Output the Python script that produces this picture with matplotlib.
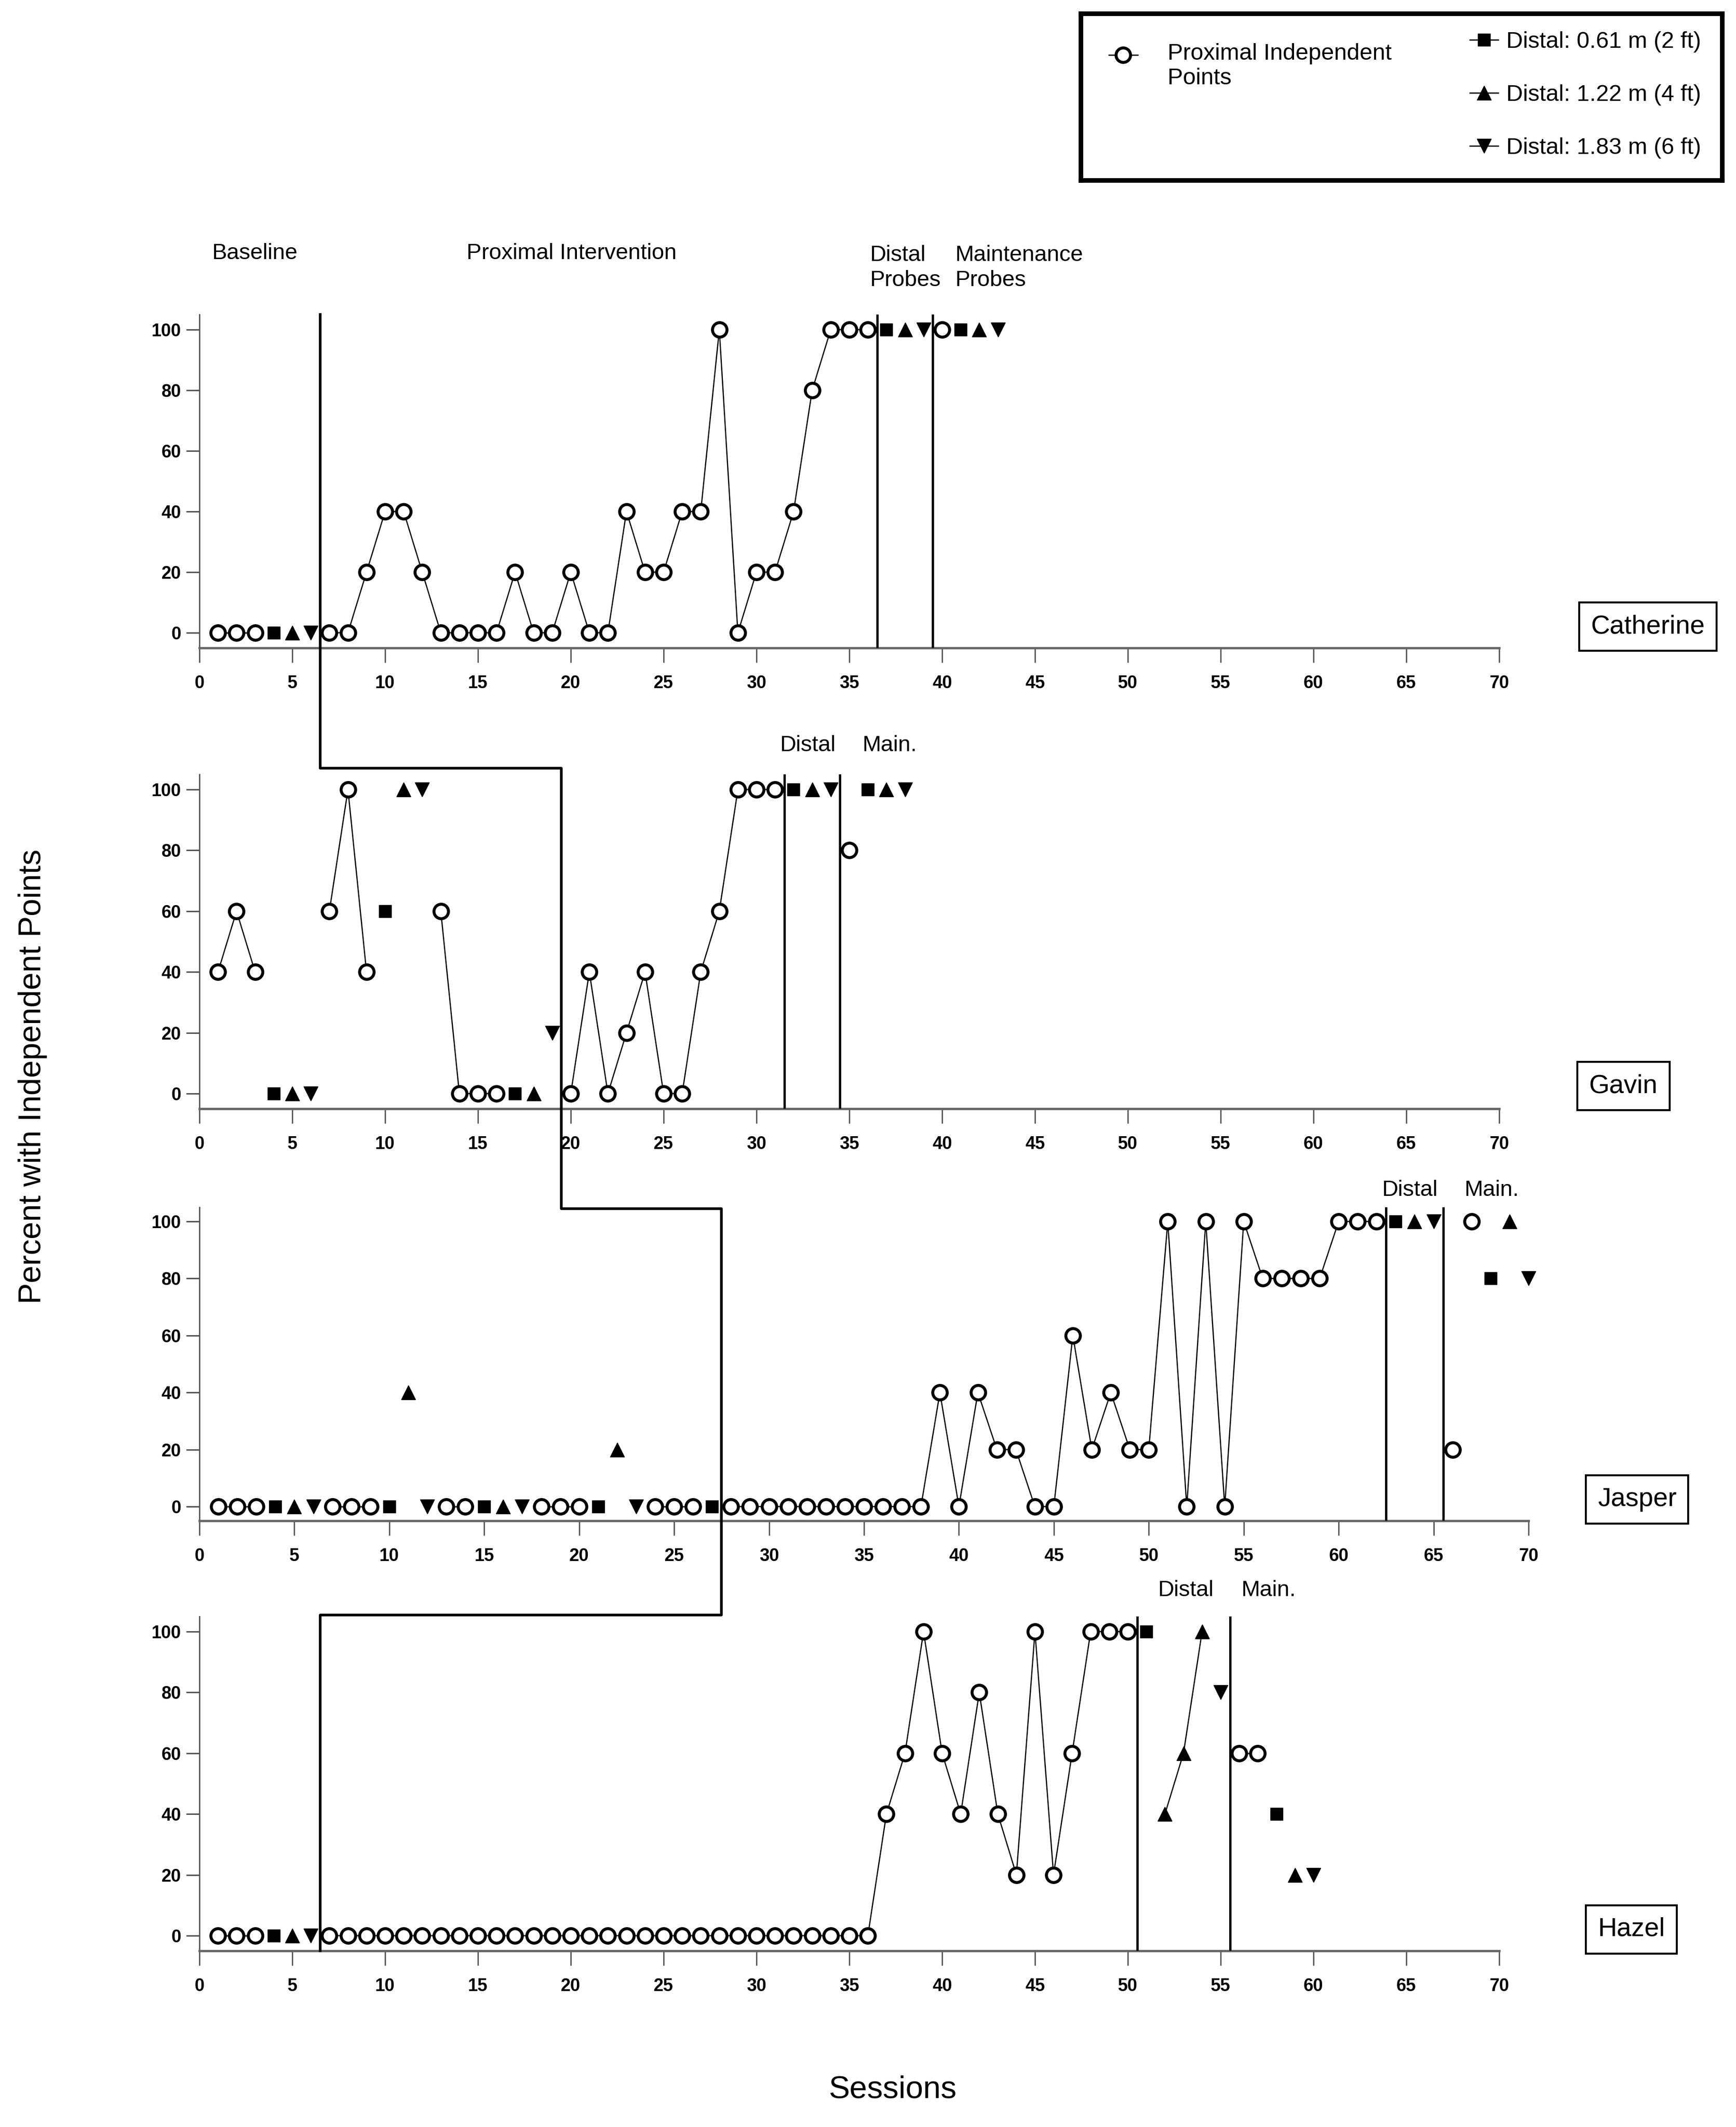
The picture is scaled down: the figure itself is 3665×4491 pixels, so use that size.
import numpy as np
import matplotlib.pyplot as plt
from matplotlib.lines import Line2D
from matplotlib.legend_handler import HandlerLine2D

plt.rcParams['font.family'] = ['Liberation Sans', 'DejaVu Sans']

W, H = 3665, 4491
DPI = 100

names = ['Catherine', 'Gavin', 'Jasper', 'Hazel']

# each series is a list of runs: (first session, values); points in a run are joined
catherine_prox = [(1, [0, 0, 0]),
                  (7, [0, 0, 20, 40, 40, 20, 0, 0, 0, 0, 20, 0, 0, 20, 0,
                       0, 40, 20, 20, 40, 40, 100, 0, 20, 20, 40, 80, 100, 100, 100]),
                  (40, [100])]
catherine_2ft = [(4, [0]), (37, [100]), (41, [100])]
catherine_4ft = [(5, [0]), (38, [100]), (42, [100])]
catherine_6ft = [(6, [0]), (39, [100]), (43, [100])]

gavin_prox = [(1, [40, 60, 40]), (7, [60, 100, 40]), (13, [60, 0, 0, 0]),
              (20, [0, 40, 0, 20, 40, 0, 0, 40, 60, 100, 100, 100]),
              (35, [80])]
gavin_2ft = [(4, [0]), (10, [60]), (17, [0]), (32, [100]), (36, [100])]
gavin_4ft = [(5, [0]), (11, [100]), (18, [0]), (33, [100]), (37, [100])]
gavin_6ft = [(6, [0]), (12, [100]), (19, [20]), (34, [100]), (38, [100])]

jasper_prox = [(1, [0, 0, 0]), (7, [0, 0, 0]), (13, [0, 0]), (18, [0, 0, 0]),
               (24, [0, 0, 0]),
               (28, [0, 0, 0, 0, 0, 0, 0, 0, 0, 0, 0, 40, 0, 40, 20, 20, 0, 0,
                     60, 20, 40, 20, 20, 100, 0, 100, 0, 100, 80, 80, 80, 80,
                     100, 100, 100]),
               (66, [20]), (67, [100])]
jasper_2ft = [(4, [0]), (10, [0]), (15, [0]), (21, [0]), (27, [0]), (63, [100]), (68, [80])]
jasper_4ft = [(5, [0]), (11, [40]), (16, [0]), (22, [20]), (64, [100]), (69, [100])]
jasper_6ft = [(6, [0]), (12, [0]), (17, [0]), (23, [0]), (65, [100]), (70, [80])]

hazel_prox = [(1, [0, 0, 0]),
              (7, [0, 0, 0, 0, 0, 0, 0, 0, 0, 0, 0, 0, 0, 0, 0,
                   0, 0, 0, 0, 0, 0, 0, 0, 0, 0, 0, 0, 0, 0, 0,
                   40, 60, 100, 60, 40, 80, 40, 20, 100, 20, 60, 100, 100, 100]),
              (56, [60, 60])]
hazel_2ft = [(4, [0]), (51, [100]), (58, [40])]
hazel_4ft = [(5, [0]), (52, [40, 60, 100]), (59, [20])]
hazel_6ft = [(6, [0]), (55, [80]), (60, [20])]

prox_data = [catherine_prox, gavin_prox, jasper_prox, hazel_prox]
ft2_data = [catherine_2ft, gavin_2ft, jasper_2ft, hazel_2ft]
ft4_data = [catherine_4ft, gavin_4ft, jasper_4ft, hazel_4ft]
ft6_data = [catherine_6ft, gavin_6ft, jasper_6ft, hazel_6ft]

# phase change lines
baseline_end = [6.5, 19.5, 27.5, 6.5]
distal_start = [36.5, 31.5, 62.5, 50.5]
maint_start = [39.5, 34.5, 65.5, 55.5]

# phase labels: (text, session, y of last line baseline)
phase_labels = [
    [('Baseline', 0.66, 123.3), ('Proximal Intervention', 14.4, 123.3),
     ('Distal\nProbes', 36.1, 114.4), ('Maintenance\nProbes', 40.7, 114.4)],
    [('Distal', 31.25, 112.6), ('Main.', 35.7, 112.6)],
    [('Distal', 62.26, 109.0), ('Main.', 66.6, 109.0)],
    [('Distal', 51.6, 111.7), ('Main.', 56.1, 111.7)],
]

legend_labels = ['Proximal Independent\nPoints', 'Distal: 0.61 m (2 ft)',
                 'Distal: 1.22 m (4 ft)', 'Distal: 1.83 m (6 ft)']

# layout in pixels
panel_left = 421
panel_right = [3165, 3165, 3227, 3165]
panel_y100 = [696, 1667, 2579, 3445]
panel_y0 = [1336, 2309, 3181, 4087]
name_pos = [(3479, 1323), (3427, 2293), (3456, 3166), (3444, 4074)]

fig = plt.figure(figsize=(W / DPI, H / DPI), dpi=DPI)

prox_style = dict(marker='o', ms=22, mfc='white', mec='black', mew=4.5)
sq_style = dict(marker='s', ms=19, mfc='black', mec='black', mew=1)
up_style = dict(marker='^', ms=21, mfc='black', mec='black', mew=1)
dn_style = dict(marker='v', ms=21, mfc='black', mec='black', mew=1)


def draw_runs(ax, runs, style):
    for start, vals in runs:
        xs = np.arange(start, start + len(vals))
        ax.plot(xs, vals, color='black', lw=1.8, clip_on=False, zorder=4, **style)


axes = []
for i, name in enumerate(names):
    span = panel_y0[i] - panel_y100[i]
    top = panel_y100[i] - 0.05 * span
    bottom = panel_y0[i] + 0.05 * span
    ax = fig.add_axes([panel_left / W, 1 - bottom / H,
                       (panel_right[i] - panel_left) / W, (bottom - top) / H])
    axes.append(ax)
    ax.set_xlim(0, 70)
    ax.set_ylim(-5, 105)
    ax.set_xticks(range(0, 71, 5))
    ax.set_yticks(range(0, 101, 20))
    for s in ['top', 'right']:
        ax.spines[s].set_visible(False)
    ax.spines['left'].set_color('#555555')
    ax.spines['left'].set_linewidth(2)
    ax.spines['bottom'].set_color('#666666')
    ax.spines['bottom'].set_linewidth(3.5)
    ax.tick_params(axis='y', length=20, width=2.2, color='#555555', pad=8,
                   labelsize=27)
    ax.tick_params(axis='x', length=22, width=2, color='#555555', pad=19,
                   labelsize=27)
    for lab in ax.get_xticklabels() + ax.get_yticklabels():
        lab.set_fontweight('bold')

    draw_runs(ax, prox_data[i], prox_style)
    draw_runs(ax, ft2_data[i], sq_style)
    draw_runs(ax, ft4_data[i], up_style)
    draw_runs(ax, ft6_data[i], dn_style)

    ax.axvline(distal_start[i], color='black', lw=3.5, zorder=3)
    ax.axvline(maint_start[i], color='black', lw=3.5, zorder=3)

    for txt, x, y in phase_labels[i]:
        ax.text(x, y, txt, fontsize=34, ha='left', va='baseline',
                linespacing=1.25, clip_on=False)

    nx, ny = name_pos[i]
    fig.text(nx / W, 1 - ny / H, name, fontsize=40, ha='center', va='center',
             bbox=dict(boxstyle='square,pad=0.45', fc='white', ec='black', lw=3))


def fig_xy(ax, x, y):
    return fig.transFigure.inverted().transform(ax.transData.transform((x, y)))


# multiple-baseline staircase line
levels = [107, 104.5, 105.5]
sx, sy = [], []
sx.append(fig_xy(axes[0], baseline_end[0], 0)[0])
sy.append(fig_xy(axes[0], 0, 105)[1])
for i in range(1, 4):
    yl = fig_xy(axes[i], 0, levels[i - 1])[1]
    xi = fig_xy(axes[i], baseline_end[i], 0)[0]
    sx += [sx[-1], xi]
    sy += [yl, yl]
sx.append(sx[-1])
sy.append(fig_xy(axes[3], 0, -5)[1])
fig.add_artist(Line2D(sx, sy, transform=fig.transFigure, color='black', lw=4))

fig.text(1884 / W, 1 - 4412 / H, 'Sessions', fontsize=48, ha='center', va='center')
fig.text(69 / W, 1 - 2273 / H, 'Percent with Independent Points', fontsize=48,
         rotation=90, ha='center', va='center')

# legend box
lax = fig.add_axes([2282 / W, 1 - 381 / H, (3636 - 2282) / W, (381 - 29) / H])
lax.set_xticks([])
lax.set_yticks([])
for s in lax.spines.values():
    s.set_linewidth(7)
    s.set_color('black')


class FirstLineHandler(HandlerLine2D):
    # put the handle level with the first line of a two-line label
    def create_artists(self, legend, orig_handle, xdescent, ydescent,
                       width, height, fontsize, trans):
        return super().create_artists(legend, orig_handle, xdescent,
                                      ydescent - 1.0 * fontsize, width, height,
                                      fontsize, trans)


h_prox = Line2D([], [], color='black', lw=1.8, **prox_style)
h_2 = Line2D([], [], color='black', lw=1.8, **sq_style)
h_4 = Line2D([], [], color='black', lw=1.8, **up_style)
h_6 = Line2D([], [], color='black', lw=1.8, **dn_style)

leg1 = lax.legend([h_prox], legend_labels[:1], loc='upper left',
                  bbox_to_anchor=(0.0436, 0.823), frameon=False, fontsize=35,
                  borderpad=0, borderaxespad=0, handlelength=1.25,
                  handletextpad=1.3, handler_map={h_prox: FirstLineHandler()})
lax.add_artist(leg1)
lax.legend([h_2, h_4, h_6], legend_labels[1:], loc='upper left',
           bbox_to_anchor=(0.606, 0.894), frameon=False, fontsize=35,
           borderpad=0, borderaxespad=0, handlelength=1.25, handletextpad=0.35,
           labelspacing=1.38)

fig.savefig('out.png', dpi=DPI)
